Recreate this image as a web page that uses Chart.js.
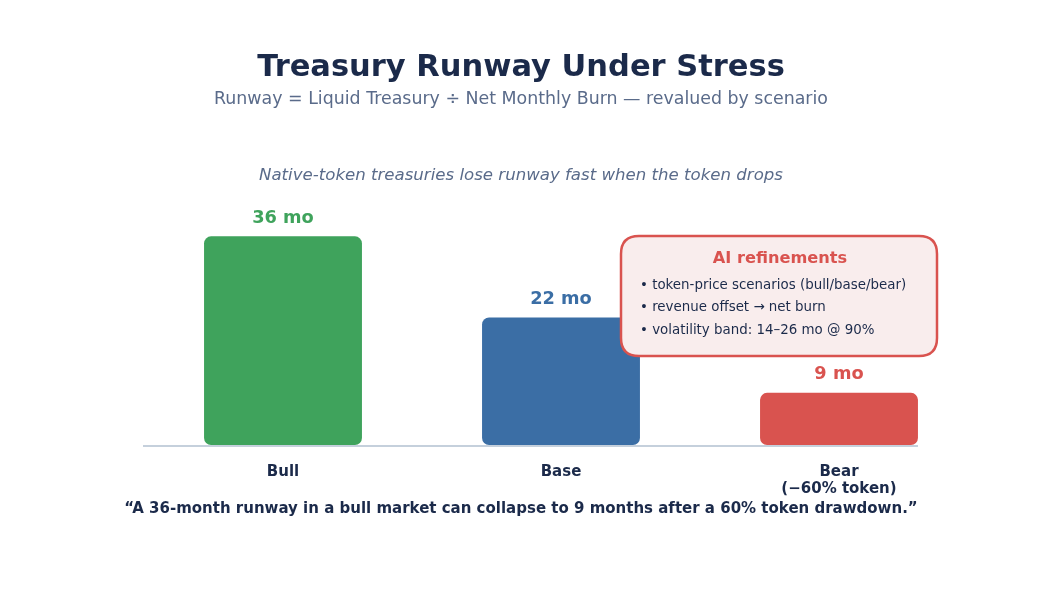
<!DOCTYPE html>
<html>
<head>
<meta charset="utf-8">
<script src="https://cdn.jsdelivr.net/npm/chart.js@4.4.0/dist/chart.umd.min.js"></script>
<style>
html,body{margin:0;padding:0;background:#fff;}
#wrap{width:1042px;height:604px;position:relative;}
</style>
</head>
<body>
<div id="wrap"><canvas id="c" width="1042" height="604"></canvas></div>
<script>
const categories = [["Bull"], ["Base"], ["Bear", "(\u221260% token)"]];
const runwayMonths = [36, 22, 9];
const valueLabels = ["36 mo", "22 mo", "9 mo"];
const barColors = ["#3fa35c", "#3b6ea5", "#d9534f"];
const titleText = "Treasury Runway Under Stress";
const subtitleText = "Runway = Liquid Treasury \u00f7 Net Monthly Burn \u2014 revalued by scenario";
const captionText = "Native-token treasuries lose runway fast when the token drops";
const footerText = "\u201cA 36-month runway in a bull market can collapse to 9 months after a 60% token drawdown.\u201d";
const calloutTitle = "AI refinements";
const calloutItems = [
  "\u2022 token-price scenarios (bull/base/bear)",
  "\u2022 revenue offset \u2192 net burn",
  "\u2022 volatility band: 14\u201326 mo @ 90%"
];

const FONT = "'DejaVu Sans', sans-serif";
const NAVY = "#1b2a4a";
const SLATE = "#5a6b8a";

function roundRect(ctx, x, y, w, h, r) {
  ctx.beginPath();
  ctx.moveTo(x + r, y);
  ctx.lineTo(x + w - r, y);
  ctx.quadraticCurveTo(x + w, y, x + w, y + r);
  ctx.lineTo(x + w, y + h - r);
  ctx.quadraticCurveTo(x + w, y + h, x + w - r, y + h);
  ctx.lineTo(x + r, y + h);
  ctx.quadraticCurveTo(x, y + h, x, y + h - r);
  ctx.lineTo(x, y + r);
  ctx.quadraticCurveTo(x, y, x + r, y);
  ctx.closePath();
}

const decor = {
  id: "decor",
  beforeDatasetsDraw(chart) {
    const ctx = chart.ctx;
    const meta = chart.getDatasetMeta(0);
    const last = meta.data[meta.data.length - 1];
    const right = last.x + last.width / 2;
    const yb = chart.scales.y.getPixelForValue(0) + 1;
    ctx.save();
    ctx.strokeStyle = "#c5d0dc";
    ctx.lineWidth = 2;
    ctx.beginPath();
    ctx.moveTo(chart.chartArea.left - 1, yb);
    ctx.lineTo(right, yb);
    ctx.stroke();
    ctx.restore();
  },
  afterDraw(chart) {
    const ctx = chart.ctx;
    const W = chart.width;
    ctx.save();
    ctx.textAlign = "center";
    ctx.textBaseline = "middle";
    ctx.fillStyle = NAVY;
    ctx.font = "bold 30.5px " + FONT;
    ctx.fillText(titleText, W / 2, 68.5);
    ctx.fillStyle = SLATE;
    ctx.font = "17.4px " + FONT;
    ctx.fillText(subtitleText, W / 2, 99);
    ctx.font = "italic 16.6px " + FONT;
    ctx.fillText(captionText, W / 2, 175.5);

    // value labels
    const meta = chart.getDatasetMeta(0);
    ctx.font = "bold 17.8px " + FONT;
    meta.data.forEach((bar, i) => {
      ctx.fillStyle = barColors[i];
      ctx.fillText(valueLabels[i], bar.x, bar.y - 18.3);
    });

    // footer
    ctx.fillStyle = NAVY;
    ctx.font = "bold 15px " + FONT;
    ctx.fillText(footerText, W / 2, 509.5);

    // callout
    const bx = 621, by = 236, bw = 316, bh = 120;
    roundRect(ctx, bx, by, bw, bh, 18);
    ctx.fillStyle = "#f9eded";
    ctx.fill();
    ctx.lineWidth = 2.5;
    ctx.strokeStyle = "#d9534f";
    ctx.stroke();
    ctx.fillStyle = "#d9534f";
    ctx.font = "bold 16.2px " + FONT;
    ctx.fillText(calloutTitle, bx + bw / 2 + 1, 258.5);
    ctx.textAlign = "left";
    ctx.fillStyle = NAVY;
    ctx.font = "13.4px " + FONT;
    calloutItems.forEach((t, i) => {
      ctx.fillText(t, 640, 285.5 + i * 22.5);
    });
    ctx.restore();
  }
};

new Chart(document.getElementById("c"), {
  type: "bar",
  data: {
    labels: categories,
    datasets: [{
      data: runwayMonths,
      backgroundColor: barColors,
      borderRadius: 7,
      borderSkipped: false,
      categoryPercentage: 1,
      barPercentage: 0.568
    }]
  },
  options: {
    responsive: false,
    animation: false,
    devicePixelRatio: 1,
    layout: { padding: { left: 144, right: 64, top: 190, bottom: 79 } },
    plugins: { legend: { display: false }, tooltip: { enabled: false }, title: { display: false } },
    scales: {
      x: {
        grid: { display: false },
        border: { display: false },
        afterFit(scale) { scale.height = 80; },
        ticks: {
          color: NAVY,
          font: { family: FONT, size: 15, weight: "bold", lineHeight: 1.15 },
          padding: 10,
          maxRotation: 0
        }
      },
      y: {
        display: false,
        min: 0,
        max: 44
      }
    }
  },
  plugins: [decor]
});
</script>
</body>
</html>
